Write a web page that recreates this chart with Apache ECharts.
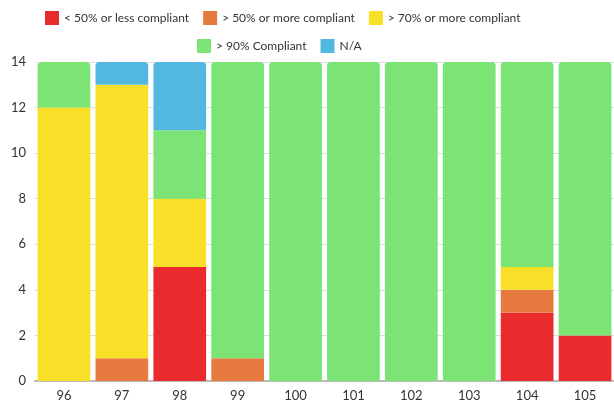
<!DOCTYPE html>
<html>
<head>
<meta charset="utf-8">
<script src="https://cdn.jsdelivr.net/npm/echarts@6/dist/echarts.min.js"></script>
<style>
  html, body { margin: 0; padding: 0; background: #fff; }
  #chart { width: 614px; height: 403px; }
</style>
</head>
<body>
<div id="chart"></div>
<script>
  // categories and stacked counts, bottom to top
  let categories = ['96', '97', '98', '99', '100', '101', '102', '103', '104', '105']
  let below50 = [0, 0, 5, 0, 0, 0, 0, 0, 3, 2]
  let above50 = [0, 1, 0, 1, 0, 0, 0, 0, 1, 0]
  let above70 = [12, 12, 3, 0, 0, 0, 0, 0, 1, 0]
  let above90 = [2, 0, 3, 13, 14, 14, 14, 14, 9, 12]
  let notApplicable = [0, 1, 3, 0, 0, 0, 0, 0, 0, 0]

  let names = ['< 50% or less compliant', '> 50% or more compliant', '> 70% or more compliant', '> 90% Compliant', 'N/A']
  let colors = ['#e92b2e', '#e67a3f', '#f7e027', '#7be474', '#53b8e0']
  let stacks = [below50, above50, above70, above90, notApplicable]

  let font = "Lato, 'Noto Sans', sans-serif"
  let chart = echarts.init(document.getElementById('chart'))

  // round the top corners of the highest non-empty segment of each bar
  let series = stacks.map((values, s) => ({
    name: names[s],
    type: 'bar',
    stack: 'total',
    barCategoryGap: '9%',
    itemStyle: { color: colors[s] },
    data: values.map((v, i) => {
      let isTop = v > 0 && stacks.slice(s + 1).every((arr) => arr[i] === 0)
      return isTop ? { value: v, itemStyle: { borderRadius: [4, 4, 0, 0] } } : v
    })
  }))

  let legendStyle = {
    icon: 'rect',
    itemWidth: 14,
    itemHeight: 14,
    itemGap: 14,
    textStyle: { fontFamily: font, fontSize: 12, color: '#333' }
  }

  chart.setOption({
    animation: false,
    legend: [
      Object.assign({ left: 40, top: 6, data: names.slice(0, 3) }, legendStyle),
      Object.assign({ left: 192, top: 34, data: names.slice(3) }, legendStyle)
    ],
    grid: { left: 35, right: -9, top: 62, bottom: 22, containLabel: false },
    xAxis: {
      type: 'category',
      data: categories,
      axisTick: { show: false },
      axisLine: { lineStyle: { color: '#bbb', width: 2 } },
      axisLabel: { fontFamily: font, fontSize: 13, color: '#333', margin: 8 }
    },
    yAxis: {
      type: 'value',
      min: 0,
      max: 14,
      interval: 2,
      axisLabel: { fontFamily: font, fontSize: 13, color: '#333', margin: 9 },
      splitLine: { lineStyle: { color: '#ddd' } }
    },
    series: series
  })
</script>
</body>
</html>
